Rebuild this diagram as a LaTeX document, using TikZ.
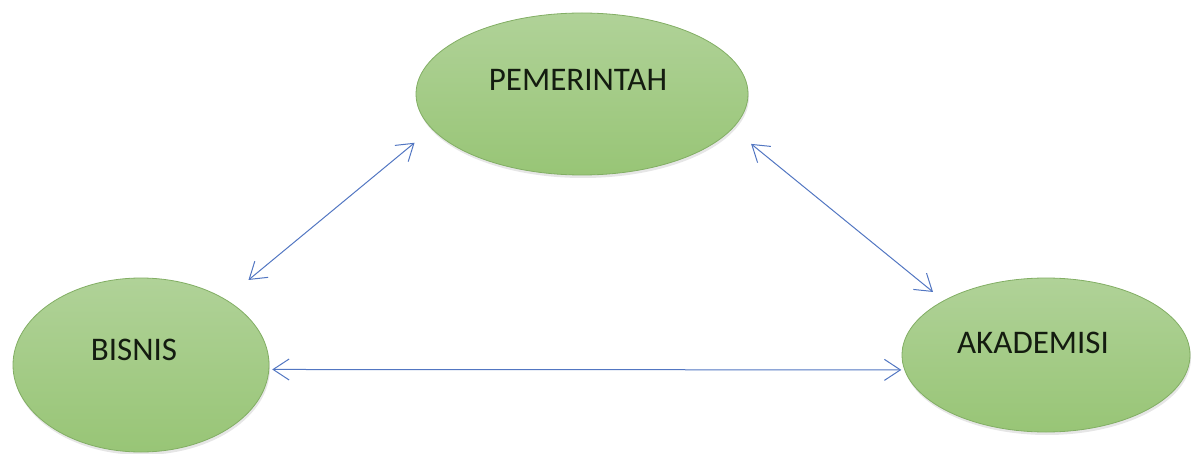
\documentclass[tikz,border=0pt]{standalone}
\usepackage{fontspec}
\setmainfont{Carlito}
\usetikzlibrary{shapes.geometric,arrows.meta,shadows}
\definecolor{ellTop}{RGB}{176,210,152}
\definecolor{ellBot}{RGB}{152,197,118}
\definecolor{ellLine}{RGB}{130,174,100}
\definecolor{arrBlue}{RGB}{82,118,194}
\definecolor{txt}{RGB}{20,28,16}
\tikzset{
  ell/.style={ellipse, inner sep=0pt, top color=ellTop, bottom color=ellBot,
    draw=ellLine, line width=0.8pt,
    drop shadow={opacity=0.2, shadow xshift=1pt, shadow yshift=-3pt}},
  lbl/.style={text=txt, font=\fontsize{33}{39}\selectfont, inner sep=0pt},
  link/.style={draw=arrBlue, line width=1pt,
    {Straight Barb[length=16pt,width=21pt,line width=1pt]}-{Straight Barb[length=16pt,width=21pt,line width=1pt]}}
}
\begin{document}
\begin{tikzpicture}[x=1pt,y=-1pt]
\useasboundingbox (0,0) rectangle (1193,454);
\node[ell, minimum width=332pt, minimum height=162pt] (pem) at (582,94) {};
\node[ell, minimum width=256pt, minimum height=174pt] (bis) at (141,365) {};
\node[ell, minimum width=288pt, minimum height=154pt] (aka) at (1046,355) {};
\node[lbl] (pemt) at (578,80) {PEMERINTAH};
\node[lbl] (bist) at (134,350) {BISNIS};
\node[lbl] (akat) at (1033,343) {AKADEMISI};
\draw[link, shorten <=30pt, shorten >=22pt] (bis.38.6) -- (pem.193.1);
\draw[link, shorten <=24pt, shorten >=13.5pt] (pem.347.4) -- (aka.152.7);
\draw[link, shorten <=3pt, shorten >=3pt] (bis.-2.7) -- (aka.186.5);
\end{tikzpicture}
\end{document}
